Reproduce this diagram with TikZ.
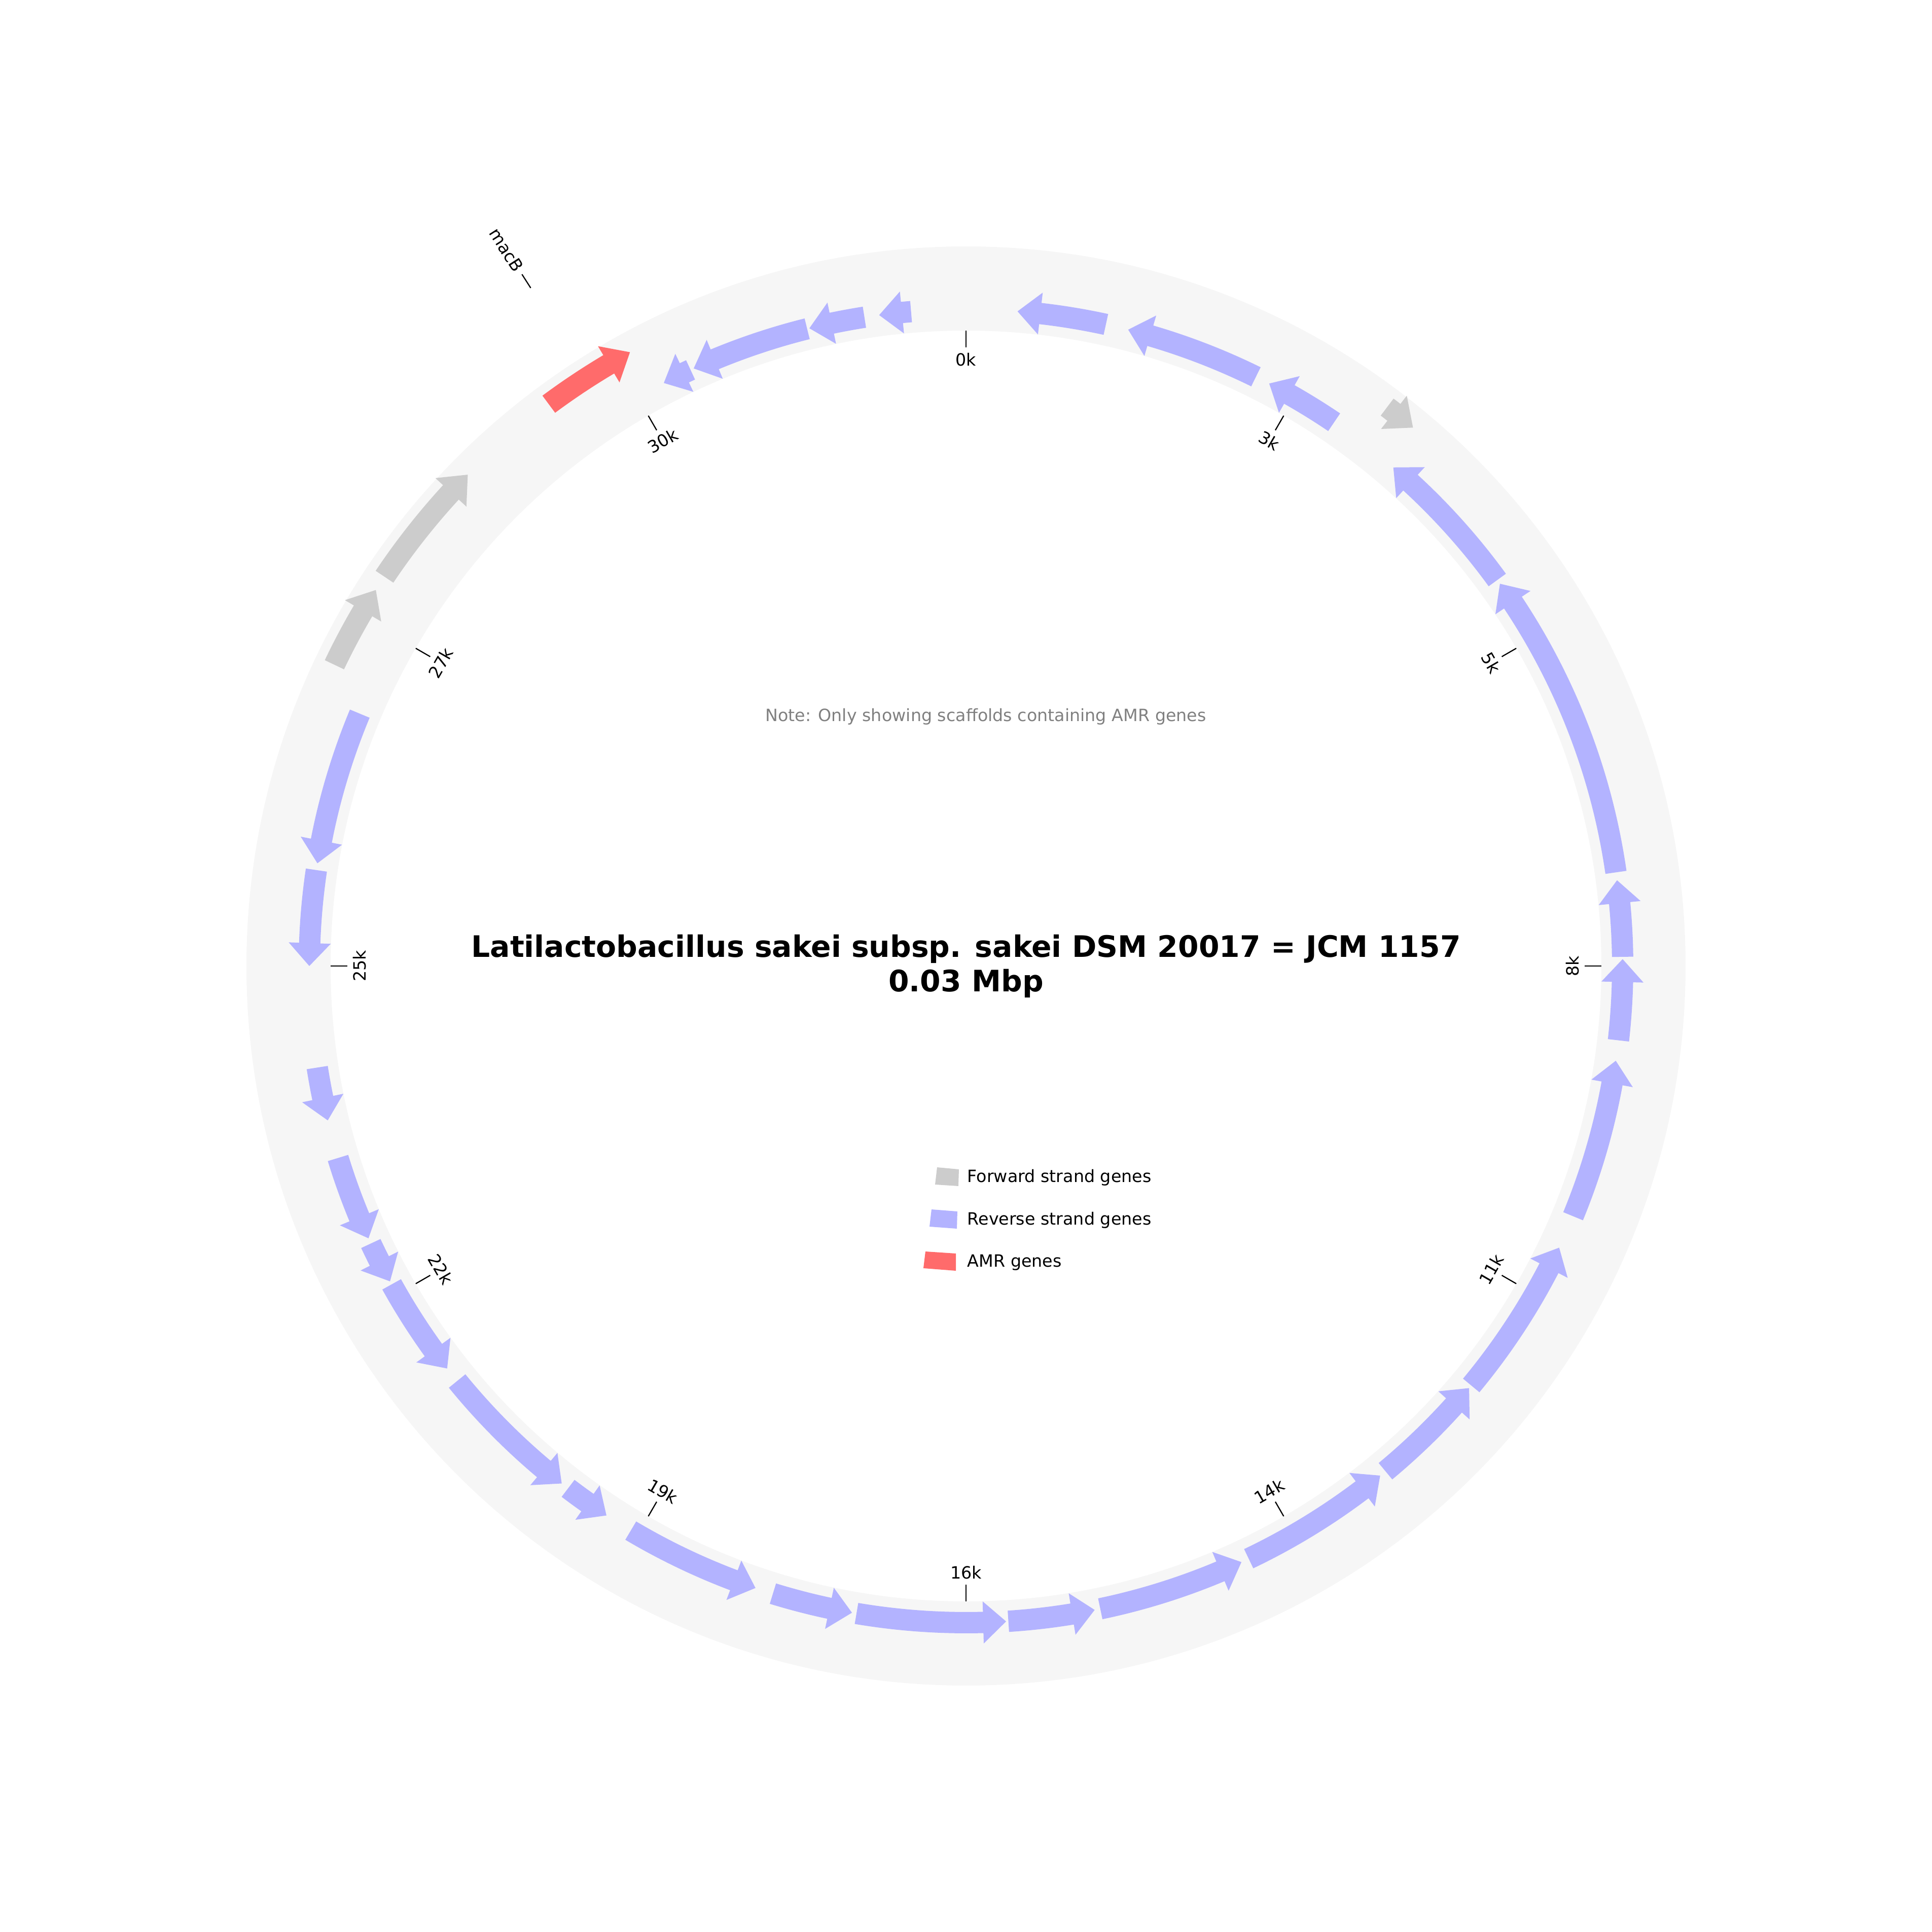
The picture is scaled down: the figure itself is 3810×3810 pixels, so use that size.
\documentclass[tikz,border=0pt]{standalone}
\usepackage{fontspec}
\setmainfont{DejaVu Sans}
\usepackage{tikz}
\definecolor{ringgray}{HTML}{F6F6F6}
\definecolor{fwdgray}{HTML}{CCCCCC}
\definecolor{revblue}{HTML}{B3B3FF}
\definecolor{amrred}{HTML}{FF6B6B}
\tikzset{
  fwdgene/.style={fill=fwdgray},
  revgene/.style={fill=revblue},
  amrgene/.style={fill=amrred},
  tickmark/.style={line width=0.55pt,draw=black},
  ticklabel/.style={font=\fontsize{8}{10}\selectfont,inner sep=0pt},
  legendtext/.style={anchor=base west,font=\fontsize{8}{10}\selectfont,inner sep=0pt}
}
% #1 style, #2 track radius, #3 tail and #4 tip, clockwise from the top
\newcommand{\gene}[4]{%
  \pgfmathsetmacro{\gtail}{90-#3}%
  \pgfmathsetmacro{\gtip}{90-#4}%
  \pgfmathsetmacro{\gbase}{\gtip+2*sign(#4-#3)}%
  \pgfmathsetmacro{\gin}{#2-21}%
  \pgfmathsetmacro{\gout}{#2+21}%
  \pgfmathsetmacro{\hin}{#2-41.5}%
  \pgfmathsetmacro{\hout}{#2+41.5}%
  \fill[#1] (\gtail:\gin) arc[start angle=\gtail,end angle=\gbase,radius=\gin]
    -- (\gbase:\hin) -- (\gtip:#2) -- (\gbase:\hout) -- (\gbase:\gout)
    arc[start angle=\gbase,end angle=\gtail,radius=\gout] -- cycle;}

\begin{document}
\begin{tikzpicture}[x=0.24pt,y=0.24pt]
\useasboundingbox (-1905,-1905) rectangle (1905,1905);
\fill[ringgray,even odd rule] (0,0) circle[radius=1419] (0,0) circle[radius=1253];

% reverse strand on the inner track
\gene{revgene}{1295}{355.2}{352.4}
\gene{revgene}{1295}{351.1}{346.2}
\gene{revgene}{1295}{346.0}{335.5}
\gene{revgene}{1295}{335.2}{332.6}
\gene{revgene}{1295}{12.3}{4.5}
\gene{revgene}{1295}{26.2}{14.3}
\gene{revgene}{1295}{34.1}{27.5}
\gene{revgene}{1295}{54.0}{40.6}
\gene{revgene}{1295}{81.8}{54.4}
\gene{revgene}{1295}{89.2}{82.5}
\gene{revgene}{1295}{96.5}{89.4}
\gene{revgene}{1295}{112.4}{98.3}
\gene{revgene}{1295}{129.7}{115.4}
\gene{revgene}{1295}{140.3}{130.0}
\gene{revgene}{1295}{154.5}{140.9}
\gene{revgene}{1295}{168.2}{155.2}
\gene{revgene}{1295}{176.3}{168.7}
\gene{revgene}{1295}{189.6}{176.5}
\gene{revgene}{1295}{197.1}{190.0}
\gene{revgene}{1295}{210.7}{198.7}
\gene{revgene}{1295}{217.3}{213.2}
\gene{revgene}{1295}{230.8}{218.0}
\gene{revgene}{1295}{241.0}{232.2}
\gene{revgene}{1295}{245.0}{241.3}
\gene{revgene}{1295}{253.0}{245.5}
\gene{revgene}{1295}{261.1}{256.4}
\gene{revgene}{1295}{278.4}{270.0}
\gene{revgene}{1295}{292.6}{279.0}

% forward strand on the outer track
\gene{fwdgene}{1380}{37.0}{39.7}
\gene{fwdgene}{1380}{295.5}{302.5}
\gene{fwdgene}{1380}{303.8}{314.6}
\gene{amrgene}{1380}{323.4}{331.3}

\draw[tickmark] (122.7:1589) -- (122.7:1621);
\node[anchor=east,rotate=-57.3,font=\fontsize{8}{10}\selectfont,inner sep=0pt]
  (macblabel) at (122.7:1630) {macB};

\draw[tickmark] (90:1220) -- (90:1253);
\draw[tickmark] (60:1220) -- (60:1253);
\draw[tickmark] (30:1220) -- (30:1253);
\draw[tickmark] (0:1220) -- (0:1253);
\draw[tickmark] (-30:1220) -- (-30:1253);
\draw[tickmark] (-60:1220) -- (-60:1253);
\draw[tickmark] (-90:1220) -- (-90:1253);
\draw[tickmark] (-120:1220) -- (-120:1253);
\draw[tickmark] (-150:1220) -- (-150:1253);
\draw[tickmark] (180:1220) -- (180:1253);
\draw[tickmark] (150:1220) -- (150:1253);
\draw[tickmark] (120:1220) -- (120:1253);
\node[ticklabel] (tick0) at (90:1196) {0k};
\node[ticklabel,rotate=-30] (tick1) at (60:1196) {3k};
\node[ticklabel,rotate=-60] (tick2) at (30:1196) {5k};
\node[ticklabel,rotate=90] (tick3) at (0:1196) {8k};
\node[ticklabel,rotate=60] (tick4) at (-30:1196) {11k};
\node[ticklabel,rotate=30] (tick5) at (-60:1196) {14k};
\node[ticklabel] (tick6) at (-90:1196) {16k};
\node[ticklabel,rotate=-30] (tick7) at (-120:1196) {19k};
\node[ticklabel,rotate=-60] (tick8) at (-150:1196) {22k};
\node[ticklabel,rotate=90] (tick9) at (180:1196) {25k};
\node[ticklabel,rotate=60] (tick10) at (150:1196) {27k};
\node[ticklabel,rotate=30] (tick11) at (120:1196) {30k};

% base of a two-line node sits on its last line
\node[anchor=base,align=center,inner sep=0pt,
  font=\bfseries\fontsize{14}{16.5}\selectfont] (title) at (0,-51)
  {Latilactobacillus sakei subsp. sakei DSM 20017 = JCM 1157\\0.03 Mbp};
\node[anchor=base,inner sep=0pt,text=black!50,font=\fontsize{8}{10}\selectfont]
  (note) at (39,482) {Note: Only showing scaffolds containing AMR genes};

% legend swatches are slightly skewed, as in the polar axes
\fill[fwdgene] (-57,-397) -- (-14,-401) -- (-15,-434) -- (-61,-431) -- cycle;
\fill[revgene] (-68,-480) -- (-17,-484) -- (-18,-518) -- (-72,-514) -- cycle;
\fill[amrgene] (-80,-563) -- (-20,-567) -- (-20,-601) -- (-84,-596) -- cycle;
\node[legendtext] (fwdlegend) at (2,-427) {Forward strand genes};
\node[legendtext] (revlegend) at (2,-511) {Reverse strand genes};
\node[legendtext] (amrlegend) at (2,-594) {AMR genes};
\end{tikzpicture}
\end{document}
